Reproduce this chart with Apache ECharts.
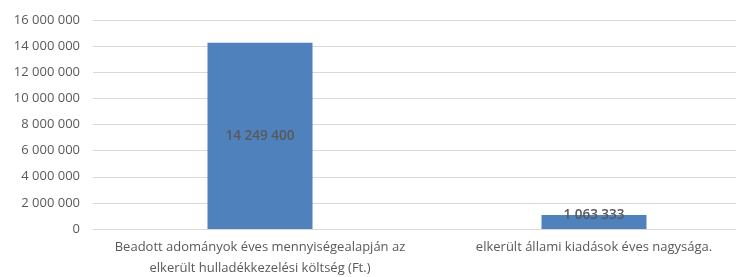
<!DOCTYPE html>
<html>
<head>
<meta charset="utf-8">
<script src="https://cdn.jsdelivr.net/npm/echarts@6/dist/echarts.min.js"></script>
<style>
  html, body { margin: 0; padding: 0; background: #fff; }
  #chart { width: 736px; height: 277px; }
</style>
</head>
<body>
<div id="chart"></div>
<script>
var categories = [
    'Beadott adományok éves mennyiségealapján az\nelkerült hulladékkezelési költség (Ft.)',
    'elkerült állami kiadások éves nagysága.'
];
var values = [14249400, 1063333];
var yMax = 16000000;
var yStep = 2000000;

function fmt(v) {
    return String(v).replace(/\B(?=(\d{3})+(?!\d))/g, ' ');
}

var chartDom = document.getElementById('chart');
var myChart = echarts.init(chartDom);

var seriesData = [];
for (var i = 0; i < values.length; i++) {
    var lbl = i === 0
        ? { position: 'inside' }
        : { position: 'top', distance: -7 };
    seriesData.push({ value: values[i], label: lbl });
}

var option = {
    animation: false,
    textStyle: { fontFamily: 'Open Sans' },
    grid: {
        left: 93, width: 668, top: 20, bottom: 48,
        outerBoundsMode: 'none', containLabel: false
    },
    xAxis: {
        type: 'category',
        data: categories,
        axisLine: { lineStyle: { color: '#d9d9d9' } },
        axisTick: { show: false },
        axisLabel: {
            color: '#595959',
            fontSize: 13,
            lineHeight: 21,
            margin: 8,
            interval: 0
        }
    },
    yAxis: {
        type: 'value',
        min: 0,
        max: yMax,
        interval: yStep,
        axisLine: { show: false },
        axisTick: { show: false },
        splitLine: { lineStyle: { color: '#d9d9d9' } },
        axisLabel: {
            color: '#595959',
            fontSize: 13,
            margin: 13,
            formatter: fmt
        }
    },
    series: [
        {
            type: 'bar',
            data: seriesData,
            barWidth: 105,
            itemStyle: { color: '#4f81bd' },
            label: {
                show: true,
                color: '#595959',
                fontSize: 13.5,
                fontWeight: 600,
                formatter: function (p) { return fmt(p.value); }
            }
        }
    ]
};

option && myChart.setOption(option);
</script>
</body>
</html>
